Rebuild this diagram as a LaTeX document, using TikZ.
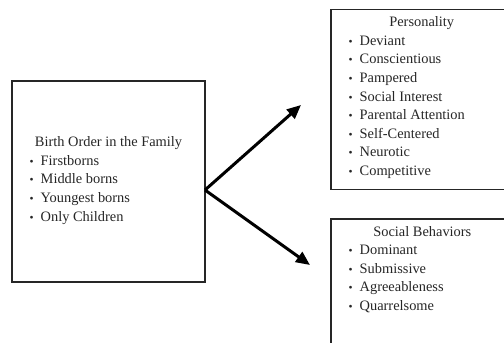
\documentclass[tikz,border=0pt]{standalone}
\usepackage{fontspec}
\setmainfont{Liberation Serif}
\usetikzlibrary{arrows.meta}
\newcommand{\bul}{\makebox[11pt][l]{\scalebox{0.8}{•}}}
\begin{document}
\begin{tikzpicture}[x=1pt,y=-1pt,
  boxstyle/.style={draw=black!85, line width=1.6pt, inner sep=0pt, outer sep=0pt},
  titletext/.style={font=\fontsize{14.4}{18.7}\selectfont, text=black!85, inner sep=0pt, anchor=base},
  listtext/.style={font=\fontsize{14.4}{18.7}\selectfont, text=black!85, inner sep=0pt, anchor=base west},
  arr/.style={line width=3pt, draw=black, -{Triangle[length=14pt,width=12pt]}}]
\useasboundingbox (0,0) rectangle (504,343);
\clip (0,0) rectangle (504,343);
\fill[white] (0,0) rectangle (504,343);
% boxes
\node[boxstyle, minimum width=193pt, minimum height=201pt, anchor=north west] (L) at (12,80.7) {};
\node[boxstyle, minimum width=181pt, minimum height=180pt, anchor=north west] (P) at (331,9.3) {};
\node[boxstyle, minimum width=181pt, minimum height=150pt, anchor=north west] (S) at (331,219) {};
% left texts
\node[titletext] (Lt) at (108.5,146.5) {Birth Order in the Family};
\foreach \t [count=\i] in {Firstborns, Middle borns, Youngest borns, Only Children}
  \node[listtext] (L\i) at (29.5,146.5+18.7*\i) {\bul\t};
% personality
\node[titletext] (Pt) at (421.7,26.7) {Personality};
\foreach \t [count=\i] in {Deviant, Conscientious, Pampered, Social Interest, Parental Attention, Self-Centered, Neurotic, Competitive}
  \node[listtext] (P\i) at (348.5,26.7+18.6*\i) {\bul\t};
% social
\node[titletext] (St) at (422.3,236) {Social Behaviors};
\foreach \t [count=\i] in {Dominant, Submissive, Agreeableness, Quarrelsome}
  \node[listtext] (S\i) at (348.5,236+18.6*\i) {\bul\t};
% arrows
\coordinate (v) at (205,190);
\coordinate (t1) at (301,105);
\coordinate (t2) at (310,265);
\draw[arr] (v) -- (t1);
\draw[arr] (v) -- (t2);
\end{tikzpicture}
\end{document}
